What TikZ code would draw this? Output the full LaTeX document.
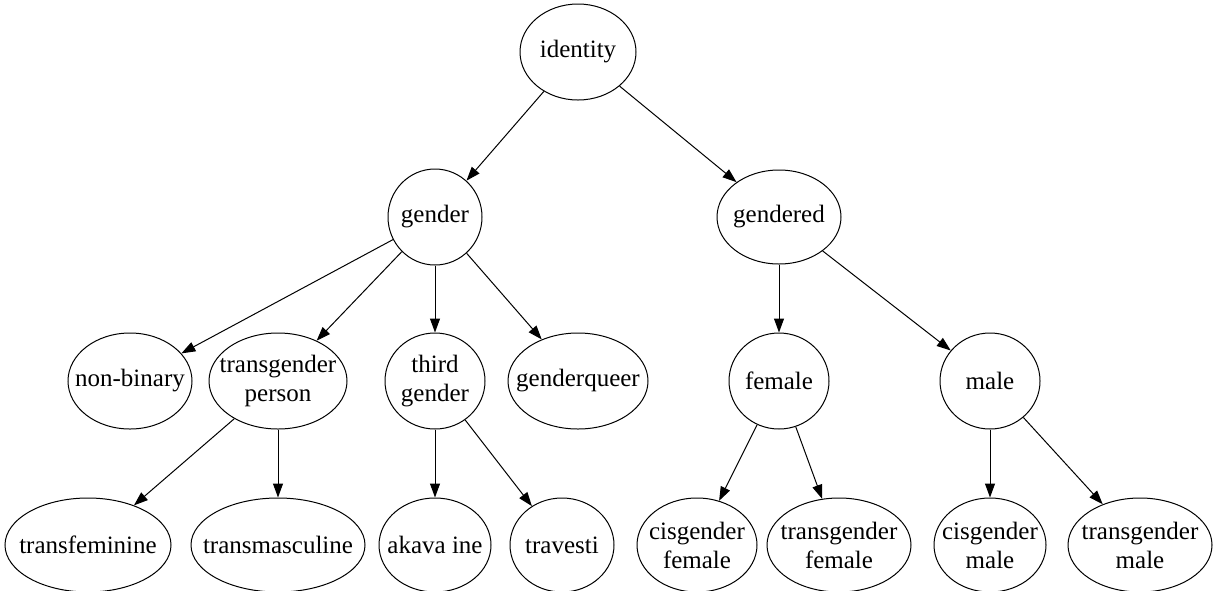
\documentclass[tikz,border=0pt]{standalone}
\usepackage{fontspec}
\setmainfont{Liberation Serif}
\usetikzlibrary{shapes.geometric,arrows.meta}
\tikzset{
  nd/.style={ellipse, draw, line width=1pt, inner xsep=-30pt, inner ysep=-15pt, align=center,
    font=\fontsize{25}{29}\selectfont},
  edge/.style={line width=1pt, -{Triangle[length=14pt,width=10pt]}},
}
\begin{document}
\begin{tikzpicture}[x=1pt,y=-1pt]
\useasboundingbox (0,0) rectangle (1217,590);
\node[nd, minimum width=116pt, minimum height=96pt] (identity) at (578,52) {identity};
\node[nd, minimum width=94pt, minimum height=96pt] (gender) at (435,217) {gender};
\node[nd, minimum width=124pt, minimum height=94pt] (gendered) at (779,217) {gendered};
\node[nd, minimum width=124pt, minimum height=96pt] (nonbinary) at (130,381) {non-binary};
\node[nd, minimum width=138pt, minimum height=96pt] (tperson) at (278,381) {transgender\\person};
\node[nd, minimum width=100pt, minimum height=96pt] (third) at (435,381) {third\\gender};
\node[nd, minimum width=140pt, minimum height=96pt] (gq) at (578,381) {genderqueer};
\node[nd, minimum width=100pt, minimum height=96pt] (female) at (779,381) {female};
\node[nd, minimum width=100pt, minimum height=96pt] (male) at (990,381) {male};
\node[nd, minimum width=166pt, minimum height=94pt] (tfem) at (88,545) {transfeminine};
\node[nd, minimum width=174pt, minimum height=94pt] (tmasc) at (278,545) {transmasculine};
\node[nd, minimum width=112pt, minimum height=94pt] (akava) at (435,545) {akava ine};
\node[nd, minimum width=104pt, minimum height=94pt] (trav) at (562,545) {travesti};
\node[nd, minimum width=120pt, minimum height=94pt] (cisf) at (697,545) {cisgender\\female};
\node[nd, minimum width=144pt, minimum height=94pt] (transf) at (839,545) {transgender\\female};
\node[nd, minimum width=112pt, minimum height=94pt] (cism) at (990,545) {cisgender\\male};
\node[nd, minimum width=144pt, minimum height=94pt] (transm) at (1140,545) {transgender\\male};
\draw[edge] (identity) -- (gender);
\draw[edge] (identity) -- (gendered);
\draw[edge] (gender) -- (nonbinary);
\draw[edge] (gender) -- (tperson);
\draw[edge] (gender) -- (third);
\draw[edge] (gender) -- (gq);
\draw[edge] (gendered) -- (female);
\draw[edge] (gendered) -- (male);
\draw[edge] (tperson) -- (tfem);
\draw[edge] (tperson) -- (tmasc);
\draw[edge] (third) -- (akava);
\draw[edge] (third) -- (trav);
\draw[edge] (female) -- (cisf);
\draw[edge] (female) -- (transf);
\draw[edge] (male) -- (cism);
\draw[edge] (male) -- (transm);
\end{tikzpicture}
\end{document}
